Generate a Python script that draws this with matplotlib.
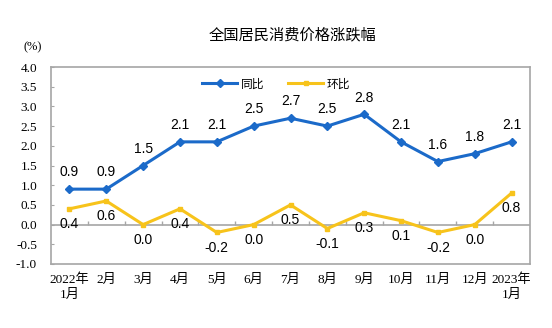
import matplotlib.pyplot as plt
import numpy as np

plt.rcParams['font.family'] = ['Liberation Serif', 'Noto Sans CJK SC', 'DejaVu Sans']

months = ['2022年\n1月', '2月', '3月', '4月', '5月', '6月', '7月',
          '8月', '9月', '10月', '11月', '12月', '2023年\n1月']
yoy = [0.9, 0.9, 1.5, 2.1, 2.1, 2.5, 2.7, 2.5, 2.8, 2.1, 1.6, 1.8, 2.1]
mom = [0.4, 0.6, 0.0, 0.4, -0.2, 0.0, 0.5, -0.1, 0.3, 0.1, -0.2, 0.0, 0.8]

blue = '#1B6AC9'
yellow = '#F7C31B'
grey = '#A6A6A6'
label_font = ['Liberation Sans', 'DejaVu Sans']

fig = plt.figure(figsize=(5.52, 3.28), dpi=100)
ax = fig.add_axes([51 / 552, 1 - 264 / 328, 479 / 552, 197 / 328])

x = np.arange(len(months))
ax.plot(x, yoy, '-', color=blue, lw=2.2, marker='D', ms=4, label='同比')
ax.plot(x, mom, '-', color=yellow, lw=2.2, marker='s', ms=3.5, label='环比')

for xi, v in zip(x, yoy):
    ax.annotate(f'{v:.1f}', (xi, v), xytext=(0, 7), textcoords='offset points',
                ha='center', va='bottom', fontsize=10, family=label_font)
for xi, v in zip(x, mom):
    ax.annotate(f'{v:.1f}', (xi, v), xytext=(0, -6), textcoords='offset points',
                ha='center', va='top', fontsize=10, family=label_font)

ax.set_xlim(-0.5, len(months) - 0.5)
ax.set_ylim(-1.0, 4.0)
yt = np.arange(-1.0, 4.01, 0.5)
ax.set_yticks(yt)
ax.set_yticklabels([f'{t:.1f}' for t in yt])
ax.set_xticks(x)
ax.set_xticklabels(months, linespacing=1.25)
ax.tick_params(axis='x', length=0, labelsize=9.5, pad=7)
ax.tick_params(axis='y', direction='in', length=2.5, color=grey, labelsize=9.5, pad=10)
for s in ax.spines.values():
    s.set_color(grey)
    s.set_linewidth(1.2)

# zero line with category ticks
ax.axhline(0, color=grey, lw=1.2, zorder=1)
bounds = np.arange(0.5, len(months) - 1, 1.0)
ax.vlines(bounds, 0, 0.1, color=grey, lw=1, zorder=1)

leg = ax.legend(loc='upper center', bbox_to_anchor=(0.47, 1.0), ncol=2, frameon=False,
                prop={'family': ['Noto Sans CJK SC'], 'size': 8.5},
                handlelength=3, columnspacing=2, handletextpad=0.3)

fig.text(293 / 552, 1 - 35 / 328, '全国居民消费价格涨跌幅', ha='center', va='center',
         fontsize=11, family=['Noto Sans CJK SC'])
fig.text(33 / 552, 1 - 47 / 328, '(%)', ha='center', va='center', fontsize=9)

fig.savefig('out.png', dpi=100)
